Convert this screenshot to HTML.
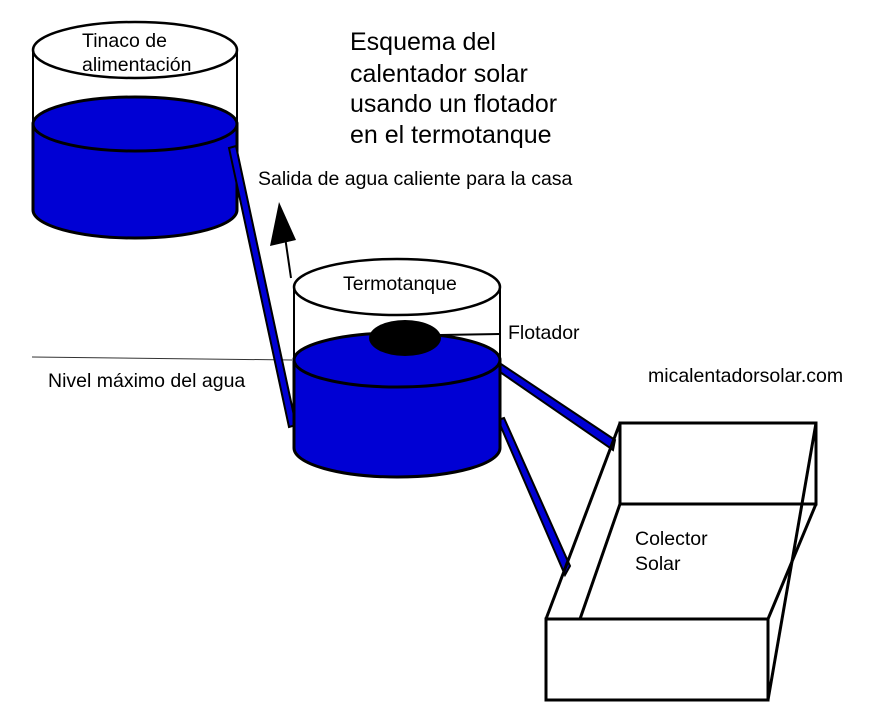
<!DOCTYPE html>
<html><head><style>body{margin:0;background:#fff}svg{display:block}text{font-family:"Liberation Sans",sans-serif;fill:#000}</style></head><body>
<svg width="880" height="728" viewBox="0 0 880 728">
<line x1="32" y1="357" x2="292" y2="360" stroke="#333" stroke-width="1"/>
<path d="M33 50 V210 A102 28 0 0 0 237 210 V50" fill="#fff" stroke="#000" stroke-width="2"/>
<path d="M33 124 V210 A102 28 0 0 0 237 210 V124 Z" fill="#0000d4" stroke="#000" stroke-width="3"/>
<ellipse cx="135" cy="124" rx="102" ry="27" fill="#0000d4" stroke="#000" stroke-width="3"/>
<ellipse cx="135" cy="50" rx="102" ry="28" fill="#fff" stroke="#000" stroke-width="2.5"/>
<polygon points="229,148 236,146 296,425 289,427" fill="#0000d4" stroke="#000" stroke-width="2"/>
<line x1="291" y1="278" x2="284" y2="230" stroke="#000" stroke-width="2"/>
<polygon points="279,202 270,246 296,240" fill="#000"/>
<polygon points="498,362 500,372 613,450 615,440" fill="#0000d4" stroke="#000" stroke-width="2"/>
<polygon points="498,420 504,418 570,566 565,575" fill="#0000d4" stroke="#000" stroke-width="2"/>
<path d="M294 287 V448 A103 29 0 0 0 500 448 V287" fill="#fff" stroke="#000" stroke-width="2"/>
<path d="M294 360 V448 A103 29 0 0 0 500 448 V360 Z" fill="#0000d4" stroke="#000" stroke-width="3"/>
<ellipse cx="397" cy="360" rx="103" ry="27" fill="#0000d4" stroke="#000" stroke-width="3"/>
<ellipse cx="397" cy="287" rx="103" ry="28" fill="#fff" stroke="#000" stroke-width="2.5"/>
<ellipse cx="405" cy="338" rx="36" ry="18" fill="#000"/>
<line x1="440" y1="335" x2="500" y2="334" stroke="#000" stroke-width="2"/>
<g fill="none" stroke="#000" stroke-width="3">
<rect x="620" y="423" width="196" height="81"/>
<rect x="546" y="619" width="222" height="81" fill="#fff"/>
<line x1="546" y1="619" x2="620" y2="423"/>
<line x1="580" y1="619" x2="620" y2="504"/>
<line x1="768" y1="619" x2="816" y2="504"/>
<line x1="768" y1="700" x2="816" y2="423"/>
</g>
<text x="82" y="47" font-size="19.5">Tinaco de</text>
<text x="82" y="71" font-size="19.5">alimentación</text>
<g font-size="25"><text x="350" y="50">Esquema del</text><text x="350" y="82">calentador solar</text><text x="350" y="112">usando un flotador</text><text x="350" y="143">en el termotanque</text></g>
<text x="258" y="185" font-size="19.5">Salida de agua caliente para la casa</text>
<text x="343" y="290" font-size="19.5">Termotanque</text>
<text x="508" y="339" font-size="19.5">Flotador</text>
<text x="48" y="387" font-size="19.5">Nivel máximo del agua</text>
<text x="648" y="382" font-size="19.5">micalentadorsolar.com</text>
<text x="635" y="545" font-size="19.5">Colector</text>
<text x="635" y="570" font-size="19.5">Solar</text>
</svg>
</body></html>
